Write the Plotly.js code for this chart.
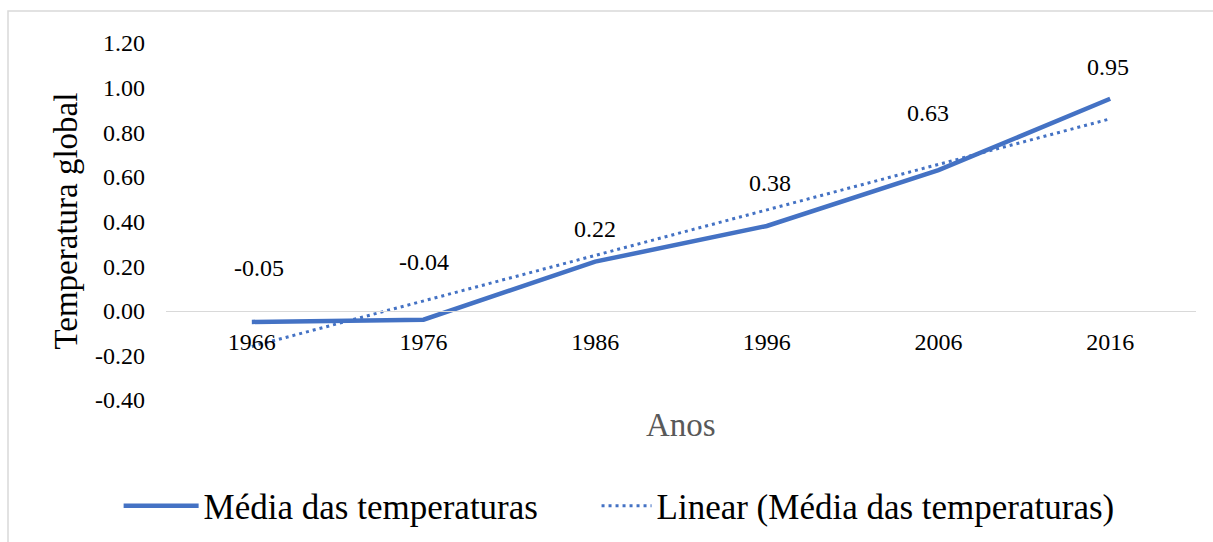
<!DOCTYPE html>
<html>
<head>
<meta charset="utf-8">
<script src="https://cdn.plot.ly/plotly-3.0.1.min.js"></script>
<style>html,body{margin:0;padding:0;background:#fff;}#chart{width:1213px;height:542px;}</style>
</head>
<body>
<div id="chart"></div>
<script>
// Data
const years = ['1966', '1976', '1986', '1996', '2006', '2016'];
const tempMean = [-0.05, -0.04, 0.22, 0.38, 0.63, 0.95];
// Linear trend line endpoints
const trendYears = ['1966', '2016'];
const trendValues = [-0.16, 0.86];
const yTickVals = [-0.4, -0.2, 0, 0.2, 0.4, 0.6, 0.8, 1.0, 1.2];
const yTickText = yTickVals.map(v => v.toFixed(2));

const seriesName = 'Média das temperaturas';
const trendName = 'Linear (Média das temperaturas)';

// label offsets (styling only)
const labelYShift = [54, 58, 33, 43, 57, 32];
const labelXShift = [7, 0, 0, 3, -11, -2];

const FONT = 'Liberation Serif';
const BLUE = '#4472C4';

const traces = [
  {
    x: years, y: tempMean, type: 'scatter', mode: 'lines', name: seriesName,
    line: {color: BLUE, width: 4.5}, legend: 'legend'
  },
  {
    x: trendYears, y: trendValues, type: 'scatter', mode: 'lines', name: trendName,
    line: {color: BLUE, width: 3, dash: '3px,4px'}, legend: 'legend2'
  }
];

const annotations = years.map((yr, i) => ({
  x: i, y: tempMean[i], xref: 'x', yref: 'y',
  text: tempMean[i].toFixed(2), showarrow: false,
  yshift: labelYShift[i], xshift: labelXShift[i],
  xanchor: 'center', yanchor: 'middle',
  font: {family: FONT, size: 24, color: '#000'}
}));
annotations.push({
  x: 0.5, y: -0.07, xref: 'paper', yref: 'paper', text: 'Anos', showarrow: false,
  xanchor: 'center', yanchor: 'middle', font: {family: FONT, size: 33, color: '#595959'}
});
annotations.push({
  x: -0.098, y: 0.5, xref: 'paper', yref: 'paper', text: 'Temperatura global', showarrow: false,
  textangle: -90, xanchor: 'center', yanchor: 'middle', font: {family: FONT, size: 33, color: '#000'}
});

const legendCommon = {
  orientation: 'h', y: -0.297, yanchor: 'middle', xanchor: 'left',
  font: {family: FONT, size: 35, color: '#000'}, itemwidth: 75,
  bgcolor: 'rgba(0,0,0,0)'
};

const layout = {
  width: 1213, height: 542,
  margin: {l: 166, r: 17, t: 43, b: 142, autoexpand: false},
  paper_bgcolor: '#fff', plot_bgcolor: '#fff',
  font: {family: FONT, color: '#000'},
  showlegend: true,
  legend: Object.assign({}, legendCommon, {x: -0.046}),
  legend2: Object.assign({}, legendCommon, {x: 0.418, itemwidth: 50}),
  xaxis: {
    type: 'category', range: [-0.5, 5.5], anchor: 'free', position: 0.25,
    showline: true, linecolor: '#d9d9d9', linewidth: 1.5, showgrid: false, zeroline: false,
    ticks: '', ticklabelstandoff: 9,
    tickfont: {family: FONT, size: 24, color: '#000'}, fixedrange: true
  },
  yaxis: {
    range: [-0.4, 1.2], tickvals: yTickVals, ticktext: yTickText,
    showgrid: false, zeroline: false, showline: false, ticks: '',
    ticklabelstandoff: 20,
    tickfont: {family: FONT, size: 24, color: '#000'}, fixedrange: true
  },
  annotations: annotations,
  shapes: [{
    type: 'rect', xref: 'paper', yref: 'paper',
    x0: (8 - 166) / 1030, x1: 1.1, y0: -0.5, y1: (400 - 11) / 357,
    line: {color: '#d9d9d9', width: 1.5}, fillcolor: 'rgba(0,0,0,0)', layer: 'below'
  }]
};

Plotly.newPlot('chart', traces, layout, {displayModeBar: false, staticPlot: true});
</script>
</body>
</html>
